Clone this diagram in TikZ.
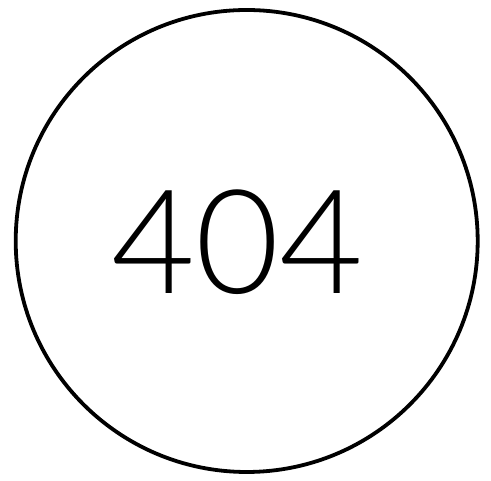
\documentclass[tikz,border=0pt]{standalone}
\usepackage{fontspec}
\setmainfont{Lato}[UprightFont=* Light]
\begin{document}
\begin{tikzpicture}[x=1pt,y=1pt,
  ring/.style={draw=black,line width=3.8pt},
  code/.style={inner sep=0pt,anchor=base,font=\fontsize{145}{145}\selectfont}]
\useasboundingbox (0,0) rectangle (491,481);
\fill[white] (0,0) rectangle (491,481);
\node[ring,circle,minimum size=462pt,inner sep=0pt] (c) at (246.7,240) {};
\node[code] (t) at (237.5,187) {404};
\end{tikzpicture}
\end{document}
